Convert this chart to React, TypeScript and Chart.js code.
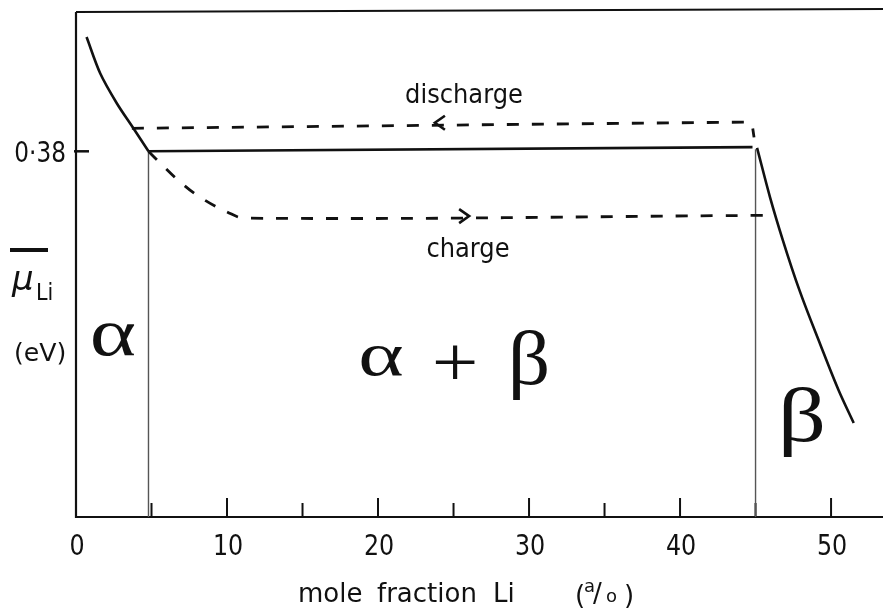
import { useEffect, useRef } from "react";
import { Chart, registerables } from "chart.js";
Chart.register(...registerables);

// ---- data (x: mole fraction Li, a/o ; y: chemical potential, eV) ----
const xMajorTicks = [0, 10, 20, 30, 40, 50];
const xMinorTicks = [5, 15, 25, 35, 45];
const yTickValues = [0.38];
const yTickLabels = ["0·38"];

const alphaX = [0.7, 1.6, 2.7, 3.8, 4.8];
const alphaY = [0.3964, 0.3912, 0.3869, 0.3833, 0.38];

const plateauX = [4.8, 44.8];
const plateauY = [0.38, 0.3806];

const betaX = [45.1, 45.96, 46.8, 47.9, 49.3, 50.5, 51.5];
const betaY = [0.3805, 0.3734, 0.3673, 0.3601, 0.3522, 0.3457, 0.341];

const dischargeX = [3.7, 44.6, 44.8, 44.9];
const dischargeY = [0.3833, 0.3842, 0.3835, 0.382];

const chargeX = [4.8, 5.4, 6.9, 8.3, 10.0, 11.2, 45.6];
const chargeY = [0.38, 0.3787, 0.3756, 0.3733, 0.3713, 0.3704, 0.3708];

const boundaryX = [4.8, 45.0];
const boundaryTopY = [0.38, 0.3803];

const dischargeArrow = { x: 23.9, y: 0.3841, dir: -1 };
const chargeArrow = { x: 25.9, y: 0.3707, dir: 1 };

const X_MIN = 0;
const X_MAX = 53.44;
const Y_MIN = 0.3275;
const Y_MAX = 0.4;

const pts = (xs: number[], ys: number[]) => xs.map((x, i) => ({ x, y: ys[i] }));

function txt(
  ctx: CanvasRenderingContext2D,
  s: string,
  x: number,
  y: number,
  font: string,
  align: CanvasTextAlign = "left",
  sx = 1
) {
  ctx.save();
  ctx.translate(x, y);
  ctx.scale(sx, 1);
  ctx.font = font;
  ctx.textAlign = align;
  ctx.textBaseline = "alphabetic";
  ctx.fillStyle = "#111";
  ctx.fillText(s, 0, 0);
  ctx.restore();
}

const decorPlugin = {
  id: "decor",
  beforeDatasetsDraw(chart: any) {
    const { ctx, chartArea: a, scales } = chart;
    const xs = scales.x;
    const ys = scales.y;
    ctx.save();
    ctx.strokeStyle = "#111";
    ctx.lineCap = "butt";
    // frame: left axis, bottom axis, top border
    ctx.lineWidth = 2.2;
    ctx.beginPath();
    ctx.moveTo(a.left, a.top);
    ctx.lineTo(a.left, a.bottom);
    ctx.lineTo(a.right, a.bottom);
    ctx.moveTo(a.left, a.top);
    ctx.lineTo(a.right, a.top - 3);
    ctx.stroke();
    // x ticks (inward)
    ctx.lineWidth = 2;
    xMajorTicks.forEach((v) => {
      if (v === 0) return;
      const px = xs.getPixelForValue(v);
      ctx.beginPath();
      ctx.moveTo(px, a.bottom);
      ctx.lineTo(px, a.bottom - 19);
      ctx.stroke();
    });
    xMinorTicks.forEach((v) => {
      const px = xs.getPixelForValue(v);
      ctx.beginPath();
      ctx.moveTo(px, a.bottom);
      ctx.lineTo(px, a.bottom - 14);
      ctx.stroke();
    });
    // y tick
    ctx.lineWidth = 2.5;
    yTickValues.forEach((v) => {
      const py = ys.getPixelForValue(v);
      ctx.beginPath();
      ctx.moveTo(a.left - 2, py);
      ctx.lineTo(a.left + 13, py);
      ctx.stroke();
    });
    ctx.restore();
  },
  afterDatasetsDraw(chart: any) {
    const { ctx, scales } = chart;
    const xs = scales.x;
    const ys = scales.y;
    ctx.save();
    // arrows
    ctx.strokeStyle = "#111";
    ctx.lineWidth = 2.6;
    [dischargeArrow, chargeArrow].forEach((ar) => {
      const px = xs.getPixelForValue(ar.x);
      const py = ys.getPixelForValue(ar.y);
      ctx.beginPath();
      ctx.moveTo(px - ar.dir * 8, py - 7);
      ctx.lineTo(px + ar.dir * 2, py);
      ctx.lineTo(px - ar.dir * 8, py + 7);
      ctx.stroke();
    });

    const sans = "DejaVu Sans, sans-serif";
    // tick labels
    xMajorTicks.forEach((v) => {
      txt(ctx, String(v), xs.getPixelForValue(v) + 1, 555, `29px ${sans}`, "center", 0.82);
    });
    yTickValues.forEach((v, i) => {
      txt(ctx, yTickLabels[i], 66, ys.getPixelForValue(v) + 11, `29px ${sans}`, "right", 0.8);
    });

    // x axis title
    const f26 = `26px ${sans}`;
    txt(ctx, "mole", 298, 602, f26);
    txt(ctx, "fraction", 377, 602, f26);
    txt(ctx, "Li", 493, 602, f26);
    txt(ctx, "(", 575, 604, f26);
    txt(ctx, "a", 584, 592, `18px ${sans}`);
    txt(ctx, "/", 593, 602, f26);
    txt(ctx, "o", 606, 602, `18px ${sans}`);
    txt(ctx, ")", 624, 604, f26);

    // y axis title
    ctx.fillStyle = "#111";
    ctx.fillRect(10, 248, 38, 4);
    txt(ctx, "μ", 12, 290, `italic 34px ${sans}`);
    txt(ctx, "Li", 36, 300, `23px ${sans}`, "left", 0.9);
    txt(ctx, "(eV)", 14, 361, `24px ${sans}`, "left", 1.05);

    // curve annotations
    txt(ctx, "discharge", 464, 103, f26, "center", 0.93);
    txt(ctx, "charge", 468, 257, f26, "center", 0.93);

    // phase labels
    const serif = "Liberation Serif, Times New Roman, serif";
    txt(ctx, "α", 113, 355, `68px ${serif}`, "center", 1.3);
    txt(ctx, "α", 381, 375, `62px ${serif}`, "center", 1.4);
    txt(ctx, "+", 455, 386, `72px ${serif}`, "center", 1.15);
    txt(ctx, "β", 529, 384, `76px ${serif}`, "center", 1.1);
    txt(ctx, "β", 802, 441, `76px ${serif}`, "center", 1.25);
    ctx.restore();
  },
};

export default function App() {
  const ref = useRef<HTMLCanvasElement | null>(null);
  useEffect(() => {
    document.body.style.margin = "0";
    const canvas = ref.current!;
    const solid = { borderColor: "#111", borderWidth: 2.6, pointRadius: 0, fill: false };
    const dashed = { ...solid, borderWidth: 2.8, borderDash: [12, 13] };
    const chart = new Chart(canvas, {
      type: "line",
      data: {
        datasets: [
          { ...solid, data: pts(alphaX, alphaY), tension: 0.3 },
          { ...solid, data: pts(plateauX, plateauY), tension: 0 },
          { ...solid, data: pts(betaX, betaY), tension: 0.4, cubicInterpolationMode: "monotone" } as any,
          { ...dashed, data: pts(dischargeX, dischargeY), tension: 0 },
          { ...dashed, data: pts(chargeX, chargeY), tension: 0.4 },
          {
            borderColor: "#555",
            borderWidth: 1.4,
            pointRadius: 0,
            data: [{ x: boundaryX[0], y: Y_MIN }, { x: boundaryX[0], y: boundaryTopY[0] }],
          },
          {
            borderColor: "#555",
            borderWidth: 1.4,
            pointRadius: 0,
            data: [{ x: boundaryX[1], y: Y_MIN }, { x: boundaryX[1], y: boundaryTopY[1] }],
          },
        ],
      },
      options: {
        responsive: false,
        animation: false,
        parsing: false as any,
        layout: { padding: { left: 76, right: 0, top: 12, bottom: 91 } },
        plugins: { legend: { display: false }, tooltip: { enabled: false } },
        scales: {
          x: { type: "linear", min: X_MIN, max: X_MAX, display: false },
          y: { type: "linear", min: Y_MIN, max: Y_MAX, display: false },
        },
      },
      plugins: [decorPlugin],
    });
    return () => chart.destroy();
  }, []);
  return (
    <div style={{ position: "absolute", left: 0, top: 0, width: 883, height: 608, background: "#fff" }}>
      <canvas ref={ref} width={883} height={608} style={{ width: 883, height: 608, display: "block" }} />
    </div>
  );
}
